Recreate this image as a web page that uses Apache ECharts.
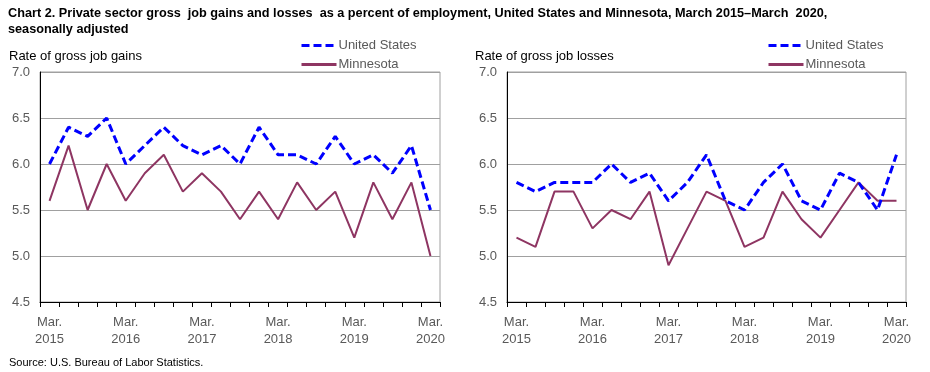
<!DOCTYPE html>
<html>
<head>
<meta charset="utf-8">
<script src="https://cdn.jsdelivr.net/npm/echarts@6/dist/echarts.min.js"></script>
<style>
html,body{margin:0;padding:0;background:#fff;}
#c{width:930px;height:372px;}
</style>
</head>
<body>
<div id="c"></div>
<script>
var quarters = ['Mar.\n2015','Jun. 2015','Sep. 2015','Dec. 2015','Mar.\n2016','Jun. 2016','Sep. 2016','Dec. 2016','Mar.\n2017','Jun. 2017','Sep. 2017','Dec. 2017','Mar.\n2018','Jun. 2018','Sep. 2018','Dec. 2018','Mar.\n2019','Jun. 2019','Sep. 2019','Dec. 2019','Mar.\n2020'];
var usGains = [6.0, 6.4, 6.3, 6.5, 6.0, 6.2, 6.4, 6.2, 6.1, 6.2, 6.0, 6.4, 6.1, 6.1, 6.0, 6.3, 6.0, 6.1, 5.9, 6.2, 5.5];
var mnGains = [5.6, 6.2, 5.5, 6.0, 5.6, 5.9, 6.1, 5.7, 5.9, 5.7, 5.4, 5.7, 5.4, 5.8, 5.5, 5.7, 5.2, 5.8, 5.4, 5.8, 5.0];
var usLosses = [5.8, 5.7, 5.8, 5.8, 5.8, 6.0, 5.8, 5.9, 5.6, 5.8, 6.1, 5.6, 5.5, 5.8, 6.0, 5.6, 5.5, 5.9, 5.8, 5.5, 6.1];
var mnLosses = [5.2, 5.1, 5.7, 5.7, 5.3, 5.5, 5.4, 5.7, 4.9, 5.3, 5.7, 5.6, 5.1, 5.2, 5.7, 5.4, 5.2, 5.5, 5.8, 5.6, 5.6];

var FONT = '"Liberation Sans", Arial, sans-serif';
var US_COLOR = '#0000ff';
var MN_COLOR = '#8e3562';
var LABEL_COLOR = '#595959';

function xAxis(gi) {
  return {
    gridIndex: gi, type: 'category', data: quarters, boundaryGap: true,
    axisLine: {show: true, lineStyle: {color: '#000', width: 1}},
    axisTick: {show: true, interval: 0, length: 5, lineStyle: {color: '#000'}},
    axisLabel: {
      interval: function (i) { return i % 4 === 0; },
      color: LABEL_COLOR, fontFamily: FONT, fontSize: 13, lineHeight: 17, margin: 12
    },
    splitLine: {show: false}
  };
}
function yAxis(gi) {
  return {
    gridIndex: gi, type: 'value', min: 4.5, max: 7.0, interval: 0.5,
    axisLine: {show: true, lineStyle: {color: '#000', width: 1}},
    axisTick: {show: false},
    axisLabel: {color: LABEL_COLOR, fontFamily: FONT, fontSize: 13, margin: 10,
      formatter: function (v) { return v.toFixed(1); }},
    splitLine: {show: true, lineStyle: {color: '#a0a0a0', width: 1}}
  };
}
function usSeries(idx, data) {
  return {name: 'United States', type: 'line', xAxisIndex: idx, yAxisIndex: idx, data: data,
    symbol: 'none', smooth: false, z: 3,
    lineStyle: {color: US_COLOR, width: 3, type: [8, 4]}, itemStyle: {color: US_COLOR}};
}
function mnSeries(idx, data) {
  return {name: 'Minnesota', type: 'line', xAxisIndex: idx, yAxisIndex: idx, data: data,
    symbol: 'none', smooth: false, z: 2,
    lineStyle: {color: MN_COLOR, width: 2}, itemStyle: {color: MN_COLOR}};
}
function legend(left) {
  return {
    left: left, top: 39, orient: 'vertical', itemGap: 6, itemWidth: 35, itemHeight: 14,
    padding: 0, selectedMode: false, icon: 'inherit',
    itemStyle: {opacity: 0},
    lineStyle: {width: 3},
    textStyle: {color: LABEL_COLOR, fontFamily: FONT, fontSize: 13, padding: [0, 0, 0, -3]},
    data: ['United States', 'Minnesota']
  };
}

var chart = echarts.init(document.getElementById('c'), null, {renderer: 'canvas'});
chart.setOption({
  animation: false,
  backgroundColor: '#fff',
  title: [
    {text: 'Chart 2. Private sector gross  job gains and losses  as a percent of employment, United States and Minnesota, March 2015\u2013March  2020,\nseasonally adjusted',
     left: 8, top: 5, padding: 0, textStyle: {fontFamily: FONT, fontSize: 12.7, fontWeight: 'bold', color: '#000', lineHeight: 16}},
    {text: 'Rate of gross job gains', left: 9, top: 50, padding: 0, textStyle: {fontFamily: FONT, fontSize: 13, fontWeight: 'normal', color: '#000'}},
    {text: 'Rate of gross job losses', left: 475, top: 50, padding: 0, textStyle: {fontFamily: FONT, fontSize: 13, fontWeight: 'normal', color: '#000'}},
    {text: 'Source: U.S. Bureau of Labor Statistics.', left: 9, top: 357, padding: 0, textStyle: {fontFamily: FONT, fontSize: 11, fontWeight: 'normal', color: '#000'}}
  ],
  legend: [legend(300), legend(767)],
  grid: [
    {left: 40, right: 490, top: 72, bottom: 70, show: true, borderColor: '#a0a0a0', borderWidth: 1, containLabel: false},
    {left: 507, right: 24, top: 72, bottom: 70, show: true, borderColor: '#a0a0a0', borderWidth: 1, containLabel: false}
  ],
  xAxis: [xAxis(0), xAxis(1)],
  yAxis: [yAxis(0), yAxis(1)],
  series: [usSeries(0, usGains), mnSeries(0, mnGains), usSeries(1, usLosses), mnSeries(1, mnLosses)]
});
</script>
</body>
</html>
